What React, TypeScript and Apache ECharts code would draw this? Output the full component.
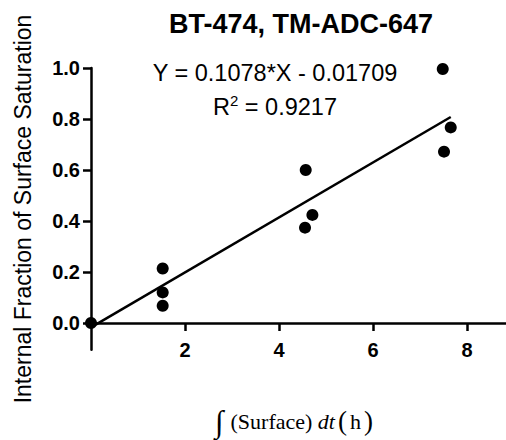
import React, { useEffect, useRef } from "react";
import * as echarts from "echarts";

const titleText = "BT-474, TM-ADC-647";
const yAxisTitle = "Internal Fraction of Surface Saturation";
const xValues = [0, 1.525, 1.525, 1.525, 4.568, 4.553, 4.71, 7.483, 7.653, 7.51];
const yValues = [0, 0.214, 0.12, 0.068, 0.6, 0.374, 0.424, 0.996, 0.767, 0.672];
const slope = 0.1078;
const intercept = -0.01709;
const rSquared = "0.9217";
const yTicks = [0, 0.2, 0.4, 0.6, 0.8, 1.0];
const xTicks = [2, 4, 6, 8];

export default function App() {
  const ref = useRef<HTMLDivElement>(null);
  useEffect(() => {
    if (!ref.current) return;
    const chart = echarts.init(ref.current, null, { renderer: "svg" });
    const xMin = Math.min(...xValues);
    const xMax = Math.max(...xValues);
    const fitLine = [
      [xMin, slope * xMin + intercept],
      [xMax, slope * xMax + intercept],
    ];
    const points = xValues.map((x, i) => [x, yValues[i]]);
    const eq = `Y = ${slope}*X - ${Math.abs(intercept)}`;
    const font = "Arial, 'Liberation Sans', sans-serif";
    const serif = "'Liberation Serif', 'Times New Roman', serif";
    chart.setOption({
      animation: false,
      backgroundColor: "#ffffff",
      grid: {
        left: 91,
        top: 68,
        width: 416,
        height: 281.8,
        containLabel: false,
        outerBoundsMode: "none",
      },
      xAxis: {
        type: "value",
        min: 0,
        max: 8.85,
        axisLine: { show: true, onZero: true, lineStyle: { color: "#000", width: 2.5, opacity: 1 } },
        axisTick: { show: true, customValues: xTicks, length: 8, lineStyle: { color: "#000", width: 2.5 } },
        axisLabel: {
          customValues: xTicks,
          margin: -10,
          color: "#000",
          fontFamily: font,
          fontWeight: "bold",
          fontSize: 20,
        },
        splitLine: { show: false },
      },
      yAxis: {
        type: "value",
        min: -0.105,
        max: 1.0,
        axisLine: { show: true, onZero: false, lineStyle: { color: "#000", width: 2.5, opacity: 1 } },
        axisTick: { show: true, customValues: yTicks, length: 8, lineStyle: { color: "#000", width: 2.5 } },
        axisLabel: {
          customValues: yTicks,
          margin: 11,
          color: "#000",
          fontFamily: font,
          fontWeight: "bold",
          fontSize: 20,
          formatter: (v: number) => v.toFixed(1),
        },
        splitLine: { show: false },
      },
      series: [
        {
          type: "line",
          data: fitLine,
          symbol: "none",
          lineStyle: { color: "#000", width: 2.5, opacity: 1 },
          z: 2,
        },
        {
          type: "scatter",
          data: points,
          symbol: "circle",
          symbolSize: 12,
          itemStyle: { color: "#000", opacity: 1 },
          clip: false,
          z: 3,
        },
      ],
      graphic: [
        {
          type: "text",
          x: 301,
          y: 24,
          style: {
            text: titleText,
            fontFamily: font,
            fontWeight: "bold",
            fontSize: 27,
            fill: "#000",
            textAlign: "center",
            textVerticalAlign: "middle",
          },
        },
        {
          type: "text",
          x: 275,
          y: 73,
          style: {
            text: eq,
            fontFamily: font,
            fontSize: 23.5,
            fill: "#000",
            textAlign: "center",
            textVerticalAlign: "middle",
          },
        },
        {
          type: "text",
          x: 275,
          y: 106,
          style: {
            text: `{r|R}{sup|2}{r| = ${rSquared}}`,
            fontFamily: font,
            fill: "#000",
            textAlign: "center",
            textVerticalAlign: "middle",
            rich: {
              r: { fontFamily: font, fontSize: 23.5, fill: "#000", lineHeight: 26, verticalAlign: "bottom" },
              sup: { fontFamily: font, fontSize: 15, fill: "#000", lineHeight: 26, verticalAlign: "top" },
            },
          },
        },
        {
          type: "text",
          x: 23,
          y: 209,
          rotation: Math.PI / 2,
          style: {
            text: yAxisTitle,
            fontFamily: font,
            fontSize: 23,
            fill: "#000",
            textAlign: "center",
            textVerticalAlign: "middle",
          },
        },
        {
          type: "text",
          x: 294,
          y: 421,
          style: {
            text: "{int|∫}{t|(Surface) }{i|dt}{p|(}{h|h}{p|)}",
            fill: "#000",
            textAlign: "center",
            textVerticalAlign: "middle",
            rich: {
              int: { fontFamily: serif, fontSize: 31, fill: "#000", padding: [0, 7, 0, 0] },
              t: { fontFamily: serif, fontSize: 22, fill: "#000" },
              i: { fontFamily: serif, fontSize: 22, fontStyle: "italic", fill: "#000", padding: [0, 3, 0, 0] },
              h: { fontFamily: serif, fontSize: 22, fill: "#000", padding: [0, 3, 0, 3] },
              p: { fontFamily: serif, fontSize: 27, fill: "#000" },
            },
          },
        },
      ],
    });
    return () => chart.dispose();
  }, []);
  return (
    <div
      ref={ref}
      style={{ position: "fixed", left: 0, top: 0, width: 506, height: 440, background: "#fff" }}
    />
  );
}
